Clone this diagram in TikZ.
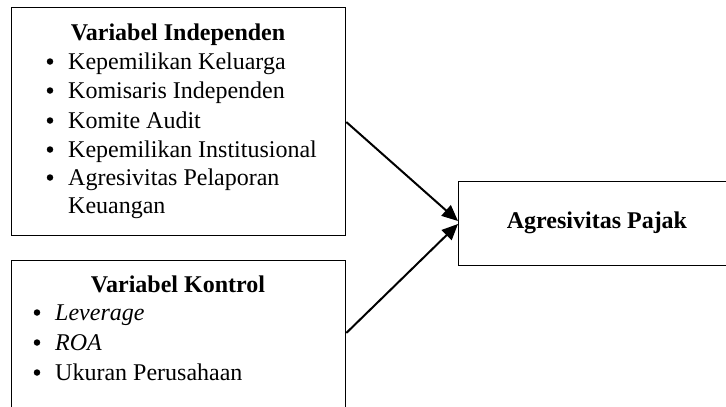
\documentclass[tikz,border=0pt]{standalone}
\usepackage{fontspec}
\setmainfont{Liberation Serif}
\usetikzlibrary{arrows.meta,calc}
\begin{document}
\begin{tikzpicture}[x=1pt,y=-1pt,
  box/.style={draw,line width=1.3pt,anchor=north west,inner sep=0pt},
  txt/.style={anchor=base west,inner sep=0pt,font=\fontsize{24}{28}\selectfont},
  ttl/.style={anchor=base,inner sep=0pt,font=\fontsize{24}{28}\selectfont\bfseries},
  bul/.style={circle,fill,inner sep=0pt,minimum size=6.5pt},
  arr/.style={line width=2pt,-{Triangle[length=16pt,width=14pt]}}]
\useasboundingbox (0,0) rectangle (726,407);
\clip (0,0) rectangle (726,407);
\node[box,minimum width=334pt,minimum height=228pt] (b1) at (11,7) {};
\node[box,minimum width=334pt,minimum height=170pt] (b2) at (11,260) {};
\node[box,minimum width=278pt,minimum height=84pt] (b3) at (458,181) {};
% box 1 text
\node[ttl] (t1) at (178,40) {Variabel Independen};
\foreach \y/\s [count=\i] in {69/Kepemilikan Keluarga,98/Komisaris Independen,128/Komite Audit,157/Kepemilikan Institusional,185/Agresivitas Pelaporan}{
  \node[bul] (bb\i) at (50,\y-7.5) {};
  \node[txt] (i\i) at (68,\y) {\s};
}
\node[txt] (i6) at (68,213) {Keuangan};
% box 2 text
\node[ttl] (t2) at (178,292) {Variabel Kontrol};
\node[bul] (cb1) at (37,320-7.5) {};
\node[txt] (c1) at (55,320) {\textit{Leverage}};
\node[bul] (cb2) at (37,350-7.5) {};
\node[txt] (c2) at (55,350) {\textit{ROA}};
\node[bul] (cb3) at (37,380-7.5) {};
\node[txt] (c3) at (55,380) {Ukuran Perusahaan};
% box 3 text
\node[ttl] (t3) at (597,228) {Agresivitas Pajak};
% arrows
\coordinate (s1) at (b1.east |- 0,122);
\coordinate (e1) at (b3.west |- 0,221);
\coordinate (s2) at (b2.east |- 0,333);
\coordinate (e2) at (b3.west |- 0,224);
\draw[arr] (s1) -- (e1);
\draw[arr] (s2) -- (e2);
\end{tikzpicture}
\end{document}
